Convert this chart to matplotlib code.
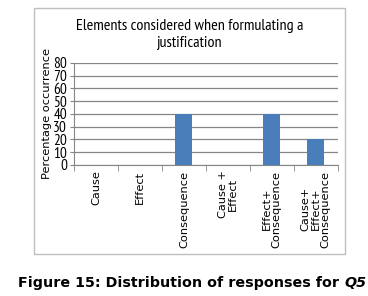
import matplotlib
matplotlib.use('Agg')
import matplotlib.pyplot as plt
from matplotlib.patches import Rectangle
import logging
logging.getLogger('matplotlib.font_manager').setLevel(logging.ERROR)

categories = ['Cause', 'Effect', 'Consequence', 'Cause +\nEffect',
              'Effect+\nConsequence', 'Cause+\nEffect+\nConsequence']
values = [0, 0, 40, 0, 40, 20]
yticks = [0, 10, 20, 30, 40, 50, 60, 70, 80]

narrow = ['Liberation Sans Narrow', 'Arial Narrow', 'PT Sans Narrow',
          'Roboto Condensed', 'Archivo Narrow', 'DejaVu Sans']

fig = plt.figure(figsize=(3.68, 2.96), dpi=100)
ax = fig.add_axes([0.201, 0.4426, 0.717, 0.3446])

x = list(range(len(categories)))
ax.bar(x, values, width=0.39, color='#4a7ebb', zorder=3)
ax.set_xlim(-0.5, len(categories) - 0.5)
ax.set_ylim(0, 80)
ax.set_yticks(yticks)
ax.set_yticklabels([str(v) for v in yticks], family=narrow, fontsize=11)
ax.yaxis.grid(True, color='#868686', linewidth=0.9, zorder=0)

ax.set_xticks(x)
ax.set_xticklabels(categories, rotation=90, fontsize=8.2, linespacing=1.0,
                   va='top', ha='center')
ax.set_xticks([i - 0.5 for i in range(len(categories) + 1)], minor=True)
ax.tick_params(axis='x', which='major', length=0, pad=4)
ax.tick_params(axis='x', which='minor', length=4, color='#868686', direction='out')
ax.tick_params(axis='y', length=3, color='#868686', pad=2)

for s in ['top', 'right']:
    ax.spines[s].set_visible(False)
ax.spines['left'].set_color('#868686')
ax.spines['bottom'].set_color('#868686')

ax.set_ylabel('Percentage occurrence', fontsize=8.2, labelpad=1)

fig.text(0.516, 0.883, 'Elements considered when formulating a\njustification',
         ha='center', va='center', family=narrow, fontsize=11.5, linespacing=1.2)

fig.patches.append(Rectangle((34 / 368, 1 - 254 / 296), (345 - 34) / 368, (254 - 8) / 296,
                             transform=fig.transFigure, fill=False,
                             edgecolor='#bfbfbf', linewidth=1.0))

t1 = fig.text(18 / 368, 1 - 287 / 296, 'Figure 15: Distribution of responses for ',
              ha='left', va='baseline', fontsize=10.25, fontweight='bold')
fig.canvas.draw()
bb = t1.get_window_extent(renderer=fig.canvas.get_renderer())
fig.text(bb.x1 / fig.bbox.width, 1 - 287 / 296, 'Q5', ha='left', va='baseline',
         fontsize=10.25, fontweight='bold', style='italic')

fig.savefig('out.png', dpi=100)
